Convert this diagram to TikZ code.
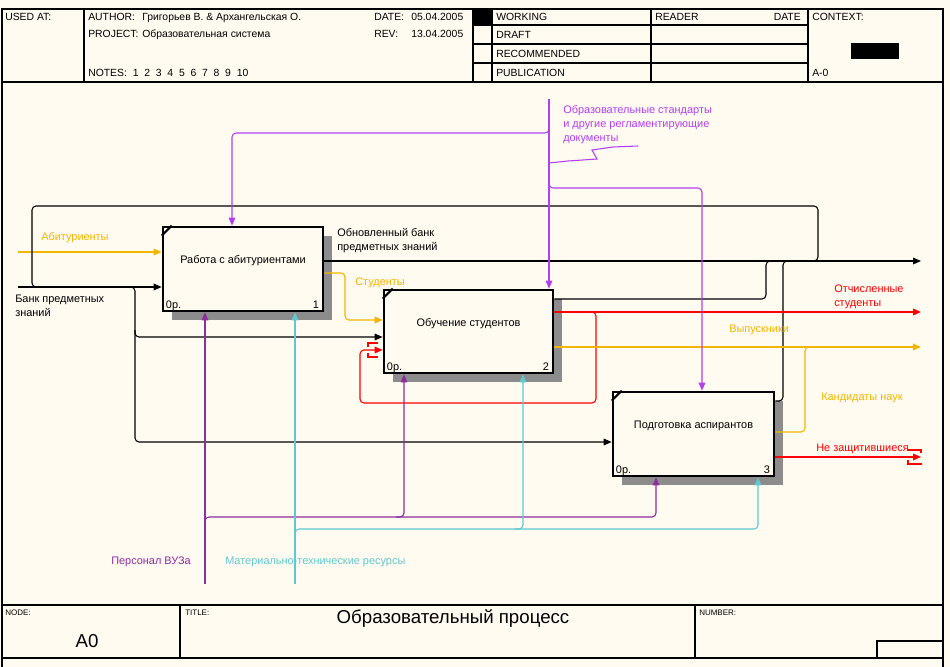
\documentclass[tikz,border=0pt]{standalone}
\usepackage{fontspec}
\setmainfont{Liberation Sans}
\usetikzlibrary{arrows.meta,shadows}
\definecolor{paper}{RGB}{255,251,240}
\definecolor{gold}{RGB}{242,182,0}
\definecolor{stdviolet}{RGB}{176,64,240}
\definecolor{staff}{RGB}{142,45,158}
\definecolor{res}{RGB}{96,200,208}
\definecolor{outred}{RGB}{255,0,0}
\begin{document}
\begin{tikzpicture}[x=0.75pt,y=-0.75pt,
    lbl/.style={inner sep=0pt, font=\fontsize{8.2}{10.5}\selectfont, anchor=west, align=left},
    hdr/.style={inner sep=0pt, font=\fontsize{7.8}{9}\selectfont, anchor=base west},
    small/.style={inner sep=0pt, font=\fontsize{6}{7}\selectfont, anchor=west},
    fn/.style={draw, line width=2pt, fill=paper, inner sep=0pt,
      general shadow={shadow xshift=6.75pt, shadow yshift=-6.5pt, fill=black!45}},
    fntext/.style={inner sep=0pt, font=\fontsize{8.2}{10}\selectfont},
    flow/.style={line width=0.8pt, rounded corners=3pt},
    tip/.style={-{Triangle[length=6pt,width=5pt]}},
    frame/.style={line width=0.8pt}]
  \fill [paper] (0,0) rectangle (950,667);
  \useasboundingbox (0,0) rectangle (950,667);

  % frame, header and footer
  \draw [frame] (2,9) rectangle (943,82);
  \draw [frame] (2,82) -- (2,667);
  \draw [frame] (943,82) -- (943,667);
  \draw [frame] (2,605) rectangle (943,658);
  \draw [frame] (84,9) -- (84,82);
  \foreach \x in {473,492,651,808}
    \draw [frame] (\x,9) -- (\x,82);
  \foreach \y in {25,44,63}
    \draw [frame] (473,\y) -- (808,\y);
  \fill (473,9) rectangle (492,25);
  \fill (851,43) rectangle (899,59);
  \draw [frame] (180,605) -- (180,658);
  \draw [frame] (695,605) -- (695,658);
  \draw [frame] (877,641) rectangle (943,658);

  \node [hdr] (usedat) at (5,21) {USED AT:};
  \node [hdr] (author) at (88,21) {AUTHOR:};
  \node [hdr] (authorv) at (142,21) {Григорьев В. \& Архангельская О.};
  \node [hdr] (project) at (88,38) {PROJECT:};
  \node [hdr] (projectv) at (142,38) {Образовательная система};
  \node [hdr] (notes) at (88,77) {NOTES:~ 1~ 2~ 3~ 4~ 5~ 6~ 7~ 8~ 9~ 10};
  \node [hdr] (date) at (374,21) {DATE:};
  \node [hdr] (datev) at (411,21) {05.04.2005};
  \node [hdr] (rev) at (374,38) {REV:};
  \node [hdr] (revv) at (411,38) {13.04.2005};
  \node [hdr] (working) at (496,21) {WORKING};
  \node [hdr] (draft) at (496,39) {DRAFT};
  \node [hdr] (recom) at (496,58) {RECOMMENDED};
  \node [hdr] (publ) at (496,77) {PUBLICATION};
  \node [hdr] (reader) at (655,21) {READER};
  \node [hdr, anchor=base east] (rdate) at (801,21) {DATE};
  \node [hdr] (context) at (812,21) {CONTEXT:};
  \node [hdr] (ctxnode) at (812,77) {A-0};
  \node [small] (nodehd) at (5,613) {NODE:};
  \node [small] (titlehd) at (185,613) {TITLE:};
  \node [small] (numberhd) at (699,613) {NUMBER:};
  \node [inner sep=0pt, font=\fontsize{14}{16}\selectfont] (nodev) at (87,641) {A0};
  \node [inner sep=0pt, font=\fontsize{14}{16}\selectfont] (titlev) at (453,619) {Образовательный процесс};

  % activity boxes
  \node [fn, minimum width=120pt, minimum height=63pt] (b1) at (243,269) {};
  \node [fn, minimum width=126.75pt, minimum height=62.25pt] (b2) at (468.5,331.5) {};
  \node [fn, minimum width=120.75pt, minimum height=63pt] (b3) at (693.5,434) {};
  \node [fntext, yshift=6pt] (b1t) at (b1.center) {Работа с абитуриентами};
  \node [fntext, yshift=6pt] (b2t) at (b2.center) {Обучение студентов};
  \node [fntext, yshift=6pt] (b3t) at (b3.center) {Подготовка аспирантов};
  \foreach \b/\n in {b1/1,b2/2,b3/3} {
    \draw [line width=1.5pt] ([shift={(0,10)}]\b.north west) -- ([shift={(10,0)}]\b.north west);
    \node [fntext, anchor=base west] (\b o) at ([shift={(4,-4)}]\b.south west) {0р.};
    \node [fntext, anchor=base east] (\b n) at ([shift={(-5,-4)}]\b.south east) {\n};
  }

  % inputs
  \coordinate (abitIn) at (18,252);
  \coordinate (bankIn) at (18,287);
  \draw [flow, tip, gold] (abitIn) -- (abitIn -| b1.west);
  \draw [flow, tip] (bankIn) -- (bankIn -| b1.west);
  \draw [flow, tip] (127,287) -- (135,287) -- (135,337) -- (b2.west |- 0,337);
  \draw [flow, tip] (135,330) -- (135,442) -- (b3.west |- 0,442);
  \draw [flow, tip, gold] (b1.east |- 0,273) -- (345,273) -- (345,320) -- (b2.west |- 0,320);

  % outputs
  \coordinate (bankOut) at (921,261);
  \coordinate (expOut) at (921,312);
  \coordinate (gradOut) at (921,347);
  \coordinate (failOut) at (921,457);
  \draw [flow, tip] (b1.east |- bankOut) -- (bankOut);
  \draw [flow] (806,261) -- (818,261) -- (818,206) -- (32,206) -- (32,287) -- (44,287);
  \draw [flow] (b2.east |- 0,299) -- (766,299) -- (766,261) -- (775,261);
  \draw [flow] (b3.east |- 0,401) -- (783,401) -- (783,261) -- (792,261);
  \draw [flow, tip, outred] (b2.east |- expOut) -- (expOut);
  \draw [flow, tip, outred] (588,312) -- (596,312) -- (596,403) -- (360,403) -- (360,350) -- (b2.west |- 0,350);
  \draw [outred, line width=0.8pt] (378,343) -- (368,343) -- (368,347) (368,353) -- (368,357) -- (378,357);
  \draw [flow, tip, gold] (b2.east |- gradOut) -- (gradOut);
  \draw [flow, gold] (b3.east |- 0,432) -- (805,432) -- (805,347) -- (815,347);
  \draw [flow, tip, outred] (b3.east |- failOut) -- (failOut);
  \draw [outred, line width=0.8pt] (907,450) -- (921,450) -- (921,453) (908,460) -- (908,464) -- (922,464);

  % controls
  \coordinate (stdIn) at (549,99);
  \draw [flow, tip, stdviolet] (stdIn) -- (stdIn |- b2.north);
  \draw [flow, tip, stdviolet] (549,124) -- (549,133) -- (232,133) -- (232,0 |- b1.north);
  \draw [flow, tip, stdviolet] (549,180) -- (549,188) -- (702,188) -- (702,0 |- b3.north);
  \draw [stdviolet, line width=0.8pt] (549,163) -- (568,161) -- (597,159) -- (592,150) -- (613,147) -- (638,146);

  % mechanisms
  \coordinate (staffIn) at (205,584);
  \coordinate (resIn) at (295,584);
  \draw [flow, tip, staff] (staffIn) -- (staffIn |- b1.south);
  \draw [flow, tip, staff] (205,525) -- (205,517) -- (656,517) -- (656,0 |- b3.south);
  \draw [flow, tip, staff] (396,517) -- (404,517) -- (404,0 |- b2.south);
  \draw [flow, tip, res] (resIn) -- (resIn |- b1.south);
  \draw [flow, tip, res] (295,537) -- (295,529) -- (758,529) -- (758,0 |- b3.south);
  \draw [flow, tip, res] (515,529) -- (523,529) -- (523,0 |- b2.south);

  % arrow labels
  \node [lbl, gold] (lAbit) at (41,238) {Абитуриенты};
  \node [lbl] (lBank) at (15,306) {Банк предметных\\знаний};
  \node [lbl] (lUpd) at (337,241) {Обновленный банк\\предметных знаний};
  \node [lbl, gold] (lStud) at (355,283) {Студенты};
  \node [lbl, stdviolet] (lStd) at (563,125) {Образовательные стандарты\\и другие регламентирующие\\документы};
  \node [lbl, outred] (lExp) at (834,297) {Отчисленные\\студенты};
  \node [lbl, gold] (lGrad) at (729,330) {Выпускники};
  \node [lbl, gold] (lCand) at (821,398) {Кандидаты наук};
  \node [lbl, outred] (lFail) at (816,449) {Не защитившиеся};
  \node [lbl, staff] (lStaff) at (111,562) {Персонал ВУЗа};
  \node [lbl, res] (lRes) at (225,562) {Материально-технические ресурсы};
\end{tikzpicture}
\end{document}
